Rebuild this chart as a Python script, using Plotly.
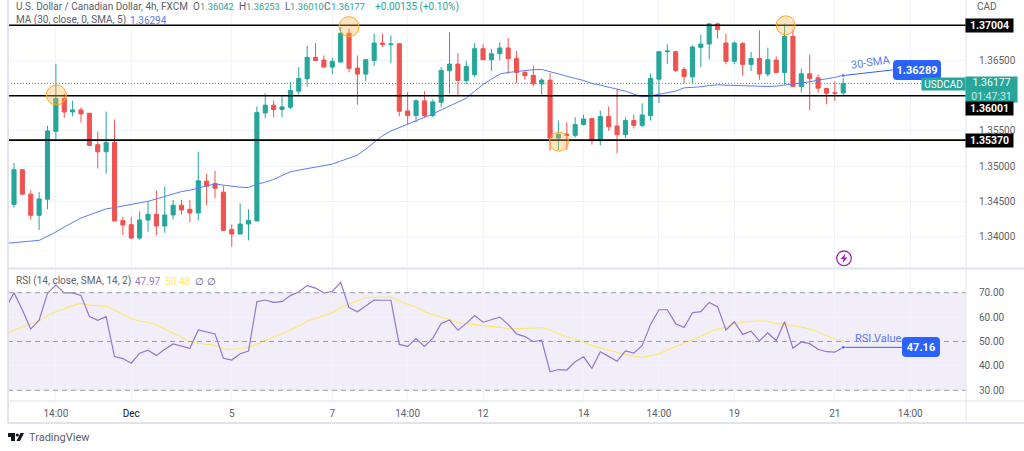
"""USD/CAD 4h candles with 30-SMA, RSI pane and marked levels."""
import plotly.graph_objects as go

opens = [
    1.34452, 1.34948, 1.34600, 1.34300, 1.34529, 1.35495, 1.35962, 1.35771, 1.35800, 1.35752,
    1.35305, 1.35205, 1.35338, 1.34224, 1.34167, 1.33976, 1.34233, 1.34314, 1.34148, 1.34305,
    1.34443, 1.34386, 1.34333, 1.34786, 1.34752, 1.34629, 1.34100, 1.34033, 1.34176, 1.34219,
    1.35757, 1.35867, 1.35805, 1.35838, 1.36067, 1.36243, 1.36548, 1.36510, 1.36410, 1.36481,
    1.36891, 1.36395, 1.36310, 1.36505, 1.36752, 1.36729, 1.36743, 1.35786, 1.35719, 1.35929,
    1.35719, 1.35910, 1.36357, 1.36452, 1.36219, 1.36300, 1.36671, 1.36514, 1.36600, 1.36681,
    1.36533, 1.36333, 1.36290, 1.36171, 1.36224, 1.35400, 1.35457, 1.35438, 1.35591, 1.35676,
    1.35362, 1.35705, 1.35571, 1.35448, 1.35648, 1.35581, 1.35719, 1.36238, 1.36629, 1.36629,
    1.36376, 1.36271, 1.36690, 1.36738, 1.37024, 1.36752, 1.36491, 1.36743, 1.36448, 1.36533,
    1.36310, 1.36510, 1.36333, 1.36848, 1.36133, 1.36314, 1.36257, 1.36105, 1.36043, 1.36042,
]
highs = [
    1.35043, 1.34957, 1.34657, 1.34629, 1.35571, 1.36457, 1.36029, 1.35933, 1.35838, 1.35752,
    1.35491, 1.35776, 1.35662, 1.34276, 1.34276, 1.34357, 1.34500, 1.34657, 1.34710, 1.34519,
    1.34519, 1.34519, 1.35205, 1.34891, 1.34933, 1.34719, 1.34171, 1.34471, 1.34386, 1.35848,
    1.36038, 1.35933, 1.35991, 1.36195, 1.36410, 1.36714, 1.36752, 1.36576, 1.36543, 1.36981,
    1.36957, 1.36576, 1.36514, 1.36886, 1.36886, 1.36862, 1.36743, 1.36052, 1.35952, 1.36067,
    1.35952, 1.36410, 1.36905, 1.36610, 1.36500, 1.36752, 1.36733, 1.36671, 1.36762, 1.36824,
    1.36638, 1.36362, 1.36429, 1.36248, 1.36324, 1.35648, 1.35624, 1.35695, 1.35733, 1.35686,
    1.35791, 1.35848, 1.36100, 1.35695, 1.35733, 1.35895, 1.36314, 1.36638, 1.36733, 1.36638,
    1.36410, 1.36719, 1.36871, 1.37038, 1.37043, 1.36886, 1.36776, 1.36767, 1.36624, 1.36933,
    1.36686, 1.36562, 1.37029, 1.36943, 1.36386, 1.36586, 1.36305, 1.36105, 1.36205, 1.36253,
]
lows = [
    1.34410, 1.34600, 1.34238, 1.34091, 1.34386, 1.35362, 1.35686, 1.35710, 1.35619, 1.35286,
    1.34967, 1.34895, 1.34219, 1.34019, 1.33962, 1.33952, 1.34067, 1.34014, 1.34052, 1.34243,
    1.34310, 1.34205, 1.34229, 1.34443, 1.34543, 1.34076, 1.33852, 1.34029, 1.33943, 1.34219,
    1.35681, 1.35695, 1.35695, 1.35810, 1.36019, 1.36133, 1.36505, 1.36410, 1.36310, 1.36481,
    1.36333, 1.35872, 1.36205, 1.36424, 1.36695, 1.36467, 1.35710, 1.35591, 1.35624, 1.35686,
    1.35695, 1.35838, 1.36029, 1.36005, 1.36167, 1.36267, 1.36514, 1.36352, 1.36505, 1.36314,
    1.36181, 1.36229, 1.36133, 1.36019, 1.35219, 1.35229, 1.35233, 1.35405, 1.35581, 1.35305,
    1.35295, 1.35505, 1.35181, 1.35400, 1.35533, 1.35552, 1.35648, 1.35895, 1.36457, 1.36338,
    1.36171, 1.36181, 1.36410, 1.36514, 1.36814, 1.36448, 1.36448, 1.36286, 1.36352, 1.36229,
    1.36276, 1.36324, 1.36162, 1.36124, 1.36048, 1.35795, 1.36043, 1.35881, 1.35929, 1.36010,
]
closes = [
    1.34948, 1.34600, 1.34300, 1.34533, 1.35500, 1.35962, 1.35771, 1.35800, 1.35743, 1.35295,
    1.35205, 1.35338, 1.34219, 1.34162, 1.33976, 1.34233, 1.34314, 1.34148, 1.34305, 1.34443,
    1.34376, 1.34333, 1.34791, 1.34714, 1.34686, 1.34086, 1.34033, 1.34176, 1.34229, 1.35762,
    1.35867, 1.35805, 1.35843, 1.36076, 1.36248, 1.36548, 1.36505, 1.36410, 1.36491, 1.36891,
    1.36391, 1.36310, 1.36514, 1.36752, 1.36733, 1.36738, 1.35781, 1.35719, 1.35929, 1.35719,
    1.35914, 1.36362, 1.36452, 1.36219, 1.36419, 1.36671, 1.36514, 1.36600, 1.36681, 1.36529,
    1.36333, 1.36286, 1.36171, 1.36224, 1.35400, 1.35452, 1.35438, 1.35591, 1.35671, 1.35362,
    1.35705, 1.35562, 1.35448, 1.35648, 1.35581, 1.35729, 1.36248, 1.36629, 1.36638, 1.36362,
    1.36276, 1.36695, 1.36738, 1.37024, 1.36943, 1.36491, 1.36752, 1.36448, 1.36533, 1.36310,
    1.36514, 1.36333, 1.36848, 1.36133, 1.36314, 1.36248, 1.36110, 1.36038, 1.36038, 1.36177,
]
# these start one bar earlier, off the left edge of the pane
sma30 = [
    1.33900, 1.33914, 1.33929, 1.33933, 1.33943, 1.34000, 1.34062, 1.34133, 1.34200, 1.34262,
    1.34305, 1.34343, 1.34391, 1.34410, 1.34433, 1.34457, 1.34476, 1.34500, 1.34533, 1.34567,
    1.34600, 1.34638, 1.34657, 1.34686, 1.34719, 1.34748, 1.34729, 1.34714, 1.34700, 1.34695,
    1.34743, 1.34772, 1.34810, 1.34867, 1.34919, 1.34943, 1.34962, 1.34981, 1.35005, 1.35029,
    1.35071, 1.35114, 1.35157, 1.35243, 1.35338, 1.35433, 1.35500, 1.35548, 1.35595, 1.35648,
    1.35695, 1.35743, 1.35800, 1.35857, 1.35910, 1.35967, 1.36067, 1.36162, 1.36238, 1.36310,
    1.36333, 1.36348, 1.36357, 1.36372, 1.36376, 1.36343, 1.36305, 1.36276, 1.36248, 1.36219,
    1.36176, 1.36152, 1.36124, 1.36095, 1.36067, 1.36024, 1.35986, 1.36000, 1.36019, 1.36043,
    1.36067, 1.36114, 1.36119, 1.36129, 1.36148, 1.36157, 1.36152, 1.36148, 1.36143, 1.36138,
    1.36129, 1.36133, 1.36138, 1.36152, 1.36167, 1.36181, 1.36200, 1.36224, 1.36243, 1.36262,
    1.36294,
]
rsi = [
    63.6, 70.0, 62.9, 55.1, 58.7, 69.7, 73.1, 69.9, 69.9, 68.9,
    60.2, 58.7, 60.2, 43.8, 43.0, 41.1, 45.2, 46.4, 44.2, 46.8,
    49.0, 48.0, 47.2, 54.7, 53.8, 53.1, 43.1, 42.4, 45.0, 46.1,
    66.3, 67.0, 66.0, 66.3, 68.8, 70.4, 72.9, 71.9, 69.9, 70.5,
    74.2, 63.9, 62.2, 64.7, 67.0, 66.9, 66.9, 48.8, 48.0, 51.2,
    48.0, 51.3, 57.4, 58.8, 54.6, 57.4, 60.6, 57.9, 58.9, 60.0,
    57.0, 53.1, 52.0, 49.9, 50.5, 37.6, 38.5, 38.3, 41.7, 43.7,
    39.0, 45.8, 43.9, 41.9, 46.1, 45.2, 48.4, 57.0, 63.0, 63.0,
    57.3, 55.7, 61.8, 62.2, 66.0, 64.3, 54.7, 58.1, 52.9, 54.2,
    50.2, 53.5, 50.3, 58.1, 47.2, 49.8, 49.1, 46.8, 45.8, 45.6,
    47.6,
]
rsi_sma = [
    52.7, 54.7, 55.9, 57.0, 58.4, 60.6, 62.2, 63.4, 64.7, 65.6,
    64.9, 64.7, 64.4, 62.9, 61.3, 59.4, 58.4, 57.9, 56.9, 55.3,
    53.5, 51.7, 49.9, 49.3, 48.7, 48.4, 46.9, 46.8, 47.1, 47.5,
    49.0, 50.3, 51.8, 53.3, 54.8, 56.2, 58.3, 59.5, 60.6, 61.8,
    64.0, 65.4, 66.6, 68.0, 68.1, 68.1, 68.1, 66.6, 65.2, 64.0,
    62.2, 60.9, 59.9, 59.1, 57.7, 57.3, 57.0, 56.6, 56.2, 55.8,
    55.1, 55.4, 55.4, 55.4, 55.7, 54.7, 53.3, 51.8, 50.9, 49.8,
    48.3, 47.5, 46.7, 45.6, 44.5, 43.9, 43.5, 44.1, 44.9, 46.5,
    47.9, 49.3, 50.6, 52.1, 53.8, 55.1, 55.9, 57.2, 57.9, 58.3,
    58.5, 58.3, 57.4, 57.0, 56.5, 55.9, 55.1, 54.0, 52.3, 51.0,
    50.48,
]
bars = list(range(100))
line_bars = list(range(-1, 100))

levels = [1.37004, 1.36001, 1.35370]
price_ticks = [1.34, 1.345, 1.35, 1.355, 1.36, 1.365, 1.37]
# 1.36 and 1.37 sit under the black level tags
price_labels = ["1.34000", "1.34500", "1.35000", "1.35500", "", "1.36500", ""]
rsi_ticks = [30, 40, 50, 60, 70]
time_bars = [5, 14, 26, 38, 47, 56, 68, 77, 86, 98, 107]
time_labels = ["14:00", "<span style='color:#131722'>Dec</span>", "5", "7", "14:00", "12",
               "14", "14:00", "19", "21", "14:00"]
# (centre x px, centre y px, radius px)
touch_circles = [(56.4, 95, 10), (349, 26.7, 10), (559, 141.7, 9.5), (785.7, 25.3, 9.5)]

W, H = 1024, 451
TEAL, RED, BLUE = "#26a69a", "#ef5350", "#2962ff"
GRID, FRAME, TEXT = "#f0f3fa", "#e0e3eb", "#5d606b"
FONT = "Roboto"
SIZE = 10


def xp(px):
    return px / W


def yp(py):
    return 1 - py / H


def label(px, py, text, color=TEXT, size=SIZE, anchor="left", **kw):
    return dict(xref="paper", yref="paper", x=xp(px), y=yp(py), text=text, showarrow=False,
                xanchor=anchor, yanchor="middle", font=dict(family=FONT, size=size, color=color), **kw)


def tag(x0, y0, x1, y1, text, bg, size=10.5):
    return dict(xref="paper", yref="paper", x=xp((x0 + x1) / 2), y=yp((y0 + y1) / 2), text=text,
                showarrow=False, width=x1 - x0, height=y1 - y0, bgcolor=bg, borderpad=0,
                xanchor="center", yanchor="middle", font=dict(family=FONT, size=size, color="white"))


def rounded_box(x0, y0, x1, y1, r, color):
    def p(a, b):
        return f"{xp(a)},{yp(b)}"
    path = (f"M {p(x0 + r, y0)} L {p(x1 - r, y0)} Q {p(x1, y0)} {p(x1, y0 + r)} L {p(x1, y1 - r)} "
            f"Q {p(x1, y1)} {p(x1 - r, y1)} L {p(x0 + r, y1)} Q {p(x0, y1)} {p(x0, y1 - r)} "
            f"L {p(x0, y0 + r)} Q {p(x0, y0)} {p(x0 + r, y0)} Z")
    return dict(type="path", xref="paper", yref="paper", path=path, fillcolor=color, line_width=0)


def polygon(points, color):
    body = " L ".join(f"{xp(a)},{yp(b)}" for a, b in points)
    return dict(type="path", xref="paper", yref="paper", path=f"M {body} Z", fillcolor=color, line_width=0)


def circle(cx, cy, r, fill, line, width=1):
    return dict(type="circle", xref="paper", yref="paper", x0=xp(cx - r), x1=xp(cx + r),
                y0=yp(cy + r), y1=yp(cy - r), fillcolor=fill, line=dict(color=line, width=width))


def frame_line(x0, y0, x1, y1, width=1):
    return dict(type="line", xref="paper", yref="paper", x0=xp(x0), x1=xp(x1), y0=yp(y0), y1=yp(y1),
                line=dict(color=FRAME, width=width))


fig = go.Figure()
fig.add_trace(go.Candlestick(
    x=bars, open=opens, high=highs, low=lows, close=closes, whiskerwidth=0,
    increasing=dict(line=dict(color=TEAL, width=1), fillcolor=TEAL),
    decreasing=dict(line=dict(color=RED, width=1), fillcolor=RED),
    xaxis="x", yaxis="y", showlegend=False,
))
fig.add_trace(go.Scatter(x=line_bars, y=sma30, mode="lines", line=dict(color="#5b7cf7", width=1),
                         xaxis="x", yaxis="y", showlegend=False))
fig.add_trace(go.Scatter(x=[99, 104.9], y=[1.36289, 1.36289 + 0.0008], mode="lines+markers",
                         line=dict(color=BLUE, width=1), marker=dict(size=[4, 0], color=BLUE),
                         xaxis="x", yaxis="y", showlegend=False))
fig.add_trace(go.Scatter(x=line_bars, y=rsi_sma, mode="lines", line=dict(color="#ffe766", width=1.1),
                         xaxis="x2", yaxis="y2", showlegend=False))
fig.add_trace(go.Scatter(x=line_bars, y=rsi, mode="lines", line=dict(color="#9575cd", width=1.2),
                         xaxis="x2", yaxis="y2", showlegend=False))
fig.add_trace(go.Scatter(x=[99, 106], y=[rsi[-1], rsi[-1]], mode="lines+markers",
                         line=dict(color=BLUE, width=1), marker=dict(size=[4, 0], color=BLUE),
                         xaxis="x2", yaxis="y2", showlegend=False))

x_range = [-0.716, 113.66]
shapes = [
    # RSI band
    dict(type="rect", xref="x2 domain", yref="y2", x0=0, x1=1, y0=30, y1=70,
         fillcolor="rgba(126,87,194,0.1)", line_width=0, layer="below"),
]
for value in (30, 50, 70):
    shapes.append(dict(type="line", xref="x2 domain", yref="y2", x0=0, x1=1, y0=value, y1=value,
                       line=dict(color="#9a9ca5", width=1, dash="5px,4px")))
# last price dotted line
shapes.append(dict(type="line", xref="x domain", yref="y", x0=0, x1=1, y0=closes[-1], y1=closes[-1],
                   line=dict(color=TEAL, width=1, dash="1px,2px")))
for level in levels:
    shapes.append(dict(type="line", xref="x domain", yref="y", x0=0, x1=1, y0=level, y1=level,
                       line=dict(color="black", width=1.6)))
for cx, cy, r in touch_circles:
    shapes.append(circle(cx, cy, r, "rgba(255,183,77,0.35)", "#ffa726"))
shapes += [
    frame_line(8, 0, 8, 423, 2),
    frame_line(966, 0, 966, 423),
    frame_line(8, 268.5, 1024, 268.5, 2),
    frame_line(8, 401, 1024, 401),
    frame_line(8, 423, 1024, 423, 2),
    rounded_box(893, 60, 941, 80, 4, BLUE),
    rounded_box(902, 337, 940, 357, 4, BLUE),
    # lightning badge
    circle(844, 258.3, 7.3, "white", "#9c27b0", 1.3),
    polygon([(845.5, 253.5), (840.5, 259), (843.5, 259), (842.5, 263), (847.5, 257.5), (844.5, 257.5)], "#9c27b0"),
    # TradingView mark
    polygon([(8, 433), (15, 433), (15, 441), (11, 441), (11, 437), (8, 437)], "#131722"),
    circle(17.3, 435, 1.6, "#131722", "#131722", 0),
    polygon([(20.5, 433), (24, 433), (20, 441), (16.5, 441)], "#131722"),
]

level_text = ["1.37004", "1.36001", "1.35370"]
level_y = [26, 108.5, 140.5]
annotations = [
    label(14, 7, "U.S. Dollar / Canadian Dollar, 4h, FXCM"),
    label(191, 7, "O"), label(198, 7, "1.36042", TEAL, 9.3),
    label(237, 7, "H"), label(244, 7, "1.36253", TEAL, 9.3),
    label(283, 7, "L"), label(288, 7, "1.36010", TEAL, 9.3),
    label(322, 7, "C"), label(329, 7, "1.36177", TEAL, 9.3),
    label(373, 7, "+0.00135 (+0.10%)", TEAL),
    label(14, 20.5, "MA (30, close, 0, SMA, 5)"),
    label(128, 20.5, "1.36294", "#5b7cf7"),
    label(14, 281, "RSI (14, close, SMA, 14, 2)"),
    label(133, 281, "47.97", "#9575cd"),
    label(163, 281, "50.48", "#ffe766"),
    label(193, 281, "∅"), label(205, 281, "∅"),
    label(975, 6, "CAD"),
    label(27, 437.5, "TradingView", size=11),
    label(871, 63, "30-SMA", "#5b7cf7", 11, "center", textangle=-8),
    label(853, 338, "RSI Value", "#5b7cf7", 11),
    tag(893, 60, 941, 80, "<b>1.36289</b>", "rgba(0,0,0,0)", 11),
    tag(902, 337, 940, 357, "<b>47.16</b>", "rgba(0,0,0,0)", 11),
    tag(922, 78, 965, 90, "USDCAD", TEAL, 10),
    tag(966, 77, 1017, 102, "1.36177<br><span style='color:#c8ebe7'>01:47:31</span>", TEAL),
]
for text, y in zip(level_text, level_y):
    annotations.append(tag(966, y - 6.5, 1013, y + 6.5, f"<b>{text}</b>", "black"))

fig.update_layout(
    width=W, height=H, autosize=False,
    margin=dict(l=0, r=0, t=0, b=0),
    paper_bgcolor="white", plot_bgcolor="white",
    font=dict(family=FONT, size=SIZE, color=TEXT),
    xaxis=dict(domain=[xp(8), xp(966)], range=x_range, anchor="y", rangeslider_visible=False,
               tickvals=time_bars, showticklabels=False, ticks="", gridcolor=GRID, gridwidth=1,
               showline=False, zeroline=False),
    yaxis=dict(domain=[yp(268), 1], range=[1.3355, 1.373643], side="right", anchor="x",
               tickvals=price_ticks, ticktext=price_labels, ticks="outside", ticklen=10,
               tickcolor="rgba(0,0,0,0)", gridcolor=GRID, gridwidth=1, zeroline=False, showline=False,
               tickfont=dict(family=FONT, size=SIZE, color=TEXT)),
    xaxis2=dict(domain=[xp(8), xp(966)], range=x_range, anchor="y2",
                tickvals=time_bars, ticktext=time_labels, ticks="outside", ticklen=3,
                tickcolor="rgba(0,0,0,0)", gridcolor=GRID, gridwidth=1, zeroline=False, showline=False,
                tickfont=dict(family=FONT, size=SIZE, color=TEXT)),
    yaxis2=dict(domain=[yp(401), yp(270)], range=[25.6, 79.3], side="right", anchor="x2",
                tickvals=rsi_ticks, tickformat=".2f", ticks="outside", ticklen=10,
                tickcolor="rgba(0,0,0,0)", gridcolor=GRID, gridwidth=1, zeroline=False, showline=False,
                tickfont=dict(family=FONT, size=SIZE, color=TEXT)),
    shapes=shapes,
    annotations=annotations,
    showlegend=False,
)

fig.write_html("out.html", config=dict(displayModeBar=False),
               post_script="document.body.style.margin='0';")
